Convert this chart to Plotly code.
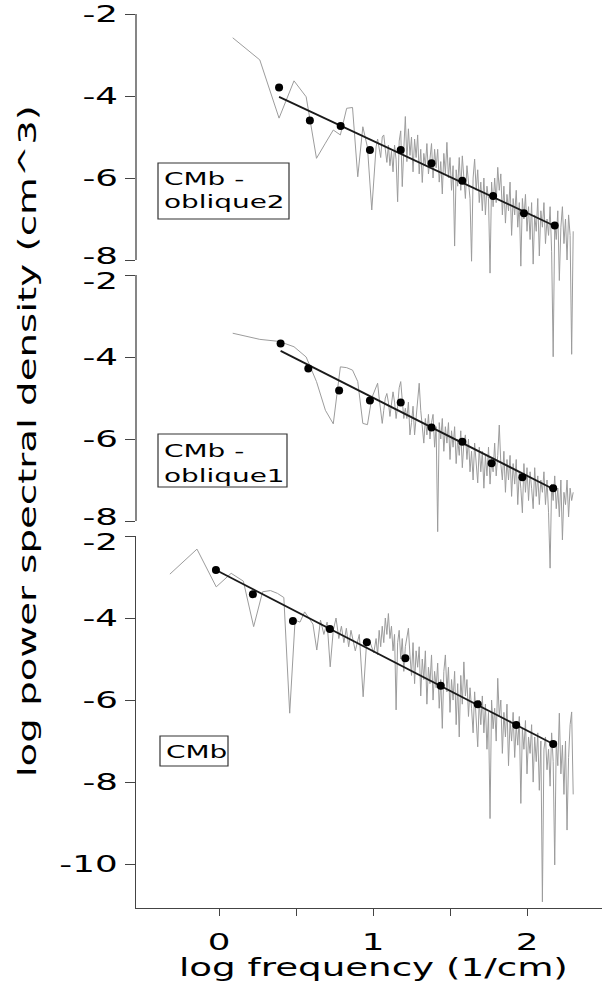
import plotly.graph_objects as go

# ---------------- data ----------------
# log frequency of the low-frequency (sparse) periodogram bins
top_freq_low = [0.089, 0.265, 0.390, 0.487, 0.566, 0.633, 0.691, 0.742, 0.788, 0.829,
                0.867, 0.901, 0.934, 0.964, 0.992]
mid_freq_low = [0.089, 0.265, 0.390, 0.487, 0.566, 0.633, 0.691, 0.742, 0.788, 0.829,
                0.867, 0.901, 0.934, 0.964, 0.992]
bot_freq_low = [-0.319, -0.143, -0.018, 0.079, 0.158, 0.225, 0.283, 0.334, 0.380, 0.421,
                0.459, 0.494, 0.526, 0.556, 0.584, 0.610, 0.635, 0.659, 0.681, 0.702,
                0.722, 0.742, 0.760, 0.778, 0.795, 0.811, 0.827, 0.842, 0.857, 0.885,
                0.911, 0.936, 0.960, 0.982, 1.005]

# log frequency of the high-frequency (dense) part, shared by the three panels
dense_freq = [1.02, 1.03, 1.04, 1.05, 1.06, 1.07, 1.08, 1.09, 1.10, 1.11,
              1.12, 1.13, 1.14, 1.15, 1.16, 1.17, 1.18, 1.19, 1.20, 1.21,
              1.22, 1.23, 1.24, 1.25, 1.26, 1.27, 1.28, 1.29, 1.30, 1.31,
              1.32, 1.33, 1.34, 1.35, 1.36, 1.37, 1.38, 1.39, 1.40, 1.41,
              1.42, 1.43, 1.44, 1.45, 1.46, 1.47, 1.48, 1.49, 1.50, 1.51,
              1.52, 1.53, 1.54, 1.55, 1.56, 1.57, 1.58, 1.59, 1.60, 1.61,
              1.62, 1.63, 1.64, 1.65, 1.66, 1.67, 1.68, 1.69, 1.70, 1.71,
              1.72, 1.73, 1.74, 1.75, 1.76, 1.77, 1.78, 1.79, 1.80, 1.81,
              1.82, 1.83, 1.84, 1.85, 1.86, 1.87, 1.88, 1.89, 1.90, 1.91,
              1.92, 1.93, 1.94, 1.95, 1.96, 1.97, 1.98, 1.99, 2.00, 2.01,
              2.02, 2.03, 2.04, 2.05, 2.06, 2.07, 2.08, 2.09, 2.10, 2.11,
              2.12, 2.13, 2.14, 2.15, 2.16, 2.17, 2.18, 2.19, 2.20, 2.21,
              2.22, 2.23, 2.24, 2.25, 2.26, 2.27, 2.28, 2.29, 2.30]

# log power spectral density — CMb - oblique2 (top)
top_psd_low = [-2.58, -3.12, -4.54, -3.63, -4.02, -5.52, -5.15, -4.83, -4.95, -4.30,
               -4.28, -5.97, -4.75, -5.25, -6.78]
top_psd_dense = [-5.24, -5.05, -5.24, -5.5, -5.0, -4.95, -5.3, -5.62, -5.2, -5.7,
                 -5.35, -5.85, -5.2, -5.55, -6.58, -5.1, -4.85, -6.21, -5.3, -4.50,
                 -5.6, -4.8, -5.45, -5.0, -5.85, -5.05, -5.5, -4.95, -5.9, -5.3,
                 -6.11, -5.4, -5.7, -5.16, -5.9, -5.5, -5.16, -6.0, -5.3, -5.75,
                 -5.3, -6.1, -5.6, -6.39, -5.4, -5.9, -5.13, -6.0, -5.5, -6.3,
                 -5.7, -7.66, -5.8, -6.2, -5.5, -6.3, -5.46, -6.0, -6.5, -5.7,
                 -6.2, -6.5, -8.03, -6.0, -5.54, -6.3, -5.8, -6.6, -6.1, -6.8,
                 -6.0, -6.9, -6.2, -6.5, -8.32, -6.1, -6.7, -6.0, -6.6, -5.74,
                 -6.3, -5.9, -6.9, -6.2, -7.1, -6.4, -6.8, -6.1, -7.4, -6.5,
                 -6.9, -6.3, -7.2, -6.6, -8.15, -6.5, -7.0, -6.4, -7.3, -6.7,
                 -7.5, -6.6, -8.1, -6.9, -7.3, -6.5, -7.9, -6.8, -7.2, -6.6,
                 -7.6, -7.0, -7.4, -6.7, -7.8, -10.36, -7.1, -7.5, -6.8, -8.5,
                 -7.2, -6.7, -7.6, -7.0, -8.0, -6.9, -7.4, -10.3, -7.3]

# CMb - oblique1 (middle)
mid_psd_low = [-3.42, -3.57, -3.62, -3.75, -4.0, -4.6, -5.3, -5.63, -4.24, -4.26,
               -4.32, -4.6, -5.62, -5.65, -5.0]
mid_psd_dense = [-4.7, -4.64, -5.0, -5.4, -5.62, -5.3, -5.0, -4.89, -5.1, -5.45,
                 -5.2, -4.85, -5.1, -5.5, -5.2, -4.75, -4.6, -5.0, -5.5, -5.25,
                 -5.5, -5.1, -5.9, -5.6, -5.2, -5.9, -5.4, -4.9, -4.64, -5.3,
                 -5.7, -6.1, -5.5, -5.9, -5.4, -6.0, -5.6, -5.4, -6.2, -5.7,
                 -8.26, -5.6, -6.0, -5.5, -6.3, -5.7, -6.1, -5.6, -6.5, -5.8,
                 -6.2, -5.7, -6.6, -6.0, -6.4, -5.8, -6.7, -6.1, -5.9, -6.5,
                 -6.0, -6.8, -6.3, -7.0, -6.1, -6.6, -7.07, -6.2, -6.8, -6.3,
                 -7.2, -6.4, -6.9, -6.2, -7.1, -6.5, -6.8, -6.1, -6.9, -6.4,
                 -5.66, -6.6, -7.0, -6.3, -7.3, -6.5, -7.0, -6.4, -7.4, -6.6,
                 -7.1, -6.5, -7.6, -6.8, -7.2, -7.8, -6.6, -7.3, -6.7, -7.5,
                 -6.8, -7.2, -7.7, -6.7, -7.4, -6.9, -7.6, -7.0, -7.3, -6.8,
                 -7.6, -7.0, -7.8, -9.15, -7.1, -7.5, -6.9, -7.7, -7.2, -7.9,
                 -7.0, -8.46, -7.3, -7.6, -7.0, -7.9, -7.2, -7.5, -7.3]

# CMb (bottom)
bot_psd_low = [-2.93, -2.32, -3.24, -2.91, -3.1, -4.21, -3.36, -3.33, -3.4, -3.5,
               -6.32, -4.05, -4.1, -3.85, -4.0, -4.15, -4.78, -4.05, -4.4, -4.1,
               -5.19, -4.3, -4.0, -4.5, -4.2, -4.6, -4.25, -4.7, -4.3, -4.8,
               -4.4, -5.92, -4.5, -4.6, -4.85]
bot_psd_dense = [-4.5, -4.9, -4.3, -4.7, -4.2, -4.6, -4.0, -4.4, -3.89, -4.5,
                 -4.2, -4.8, -4.4, -6.24, -4.6, -4.3, -5.0, -4.5, -5.3, -4.7,
                 -4.5, -4.25, -4.9, -5.4, -4.6, -5.6, -4.8, -5.2, -4.7, -5.9,
                 -5.0, -5.5, -4.8, -6.1, -5.2, -5.6, -4.9, -6.0, -5.3, -5.7,
                 -5.1, -6.2, -5.5, -6.69, -5.3, -4.9, -5.8, -5.2, -6.3, -5.5,
                 -6.0, -5.3, -6.6, -5.6, -6.9, -5.4, -6.1, -5.07, -5.9, -5.5,
                 -6.4, -5.7, -6.2, -6.8, -5.8, -6.5, -7.14, -6.0, -6.6, -5.9,
                 -6.8, -6.1, -7.2, -6.3, -8.89, -6.0, -6.7, -6.2, -7.0, -5.47,
                 -6.4, -6.0, -7.3, -6.3, -6.9, -6.1, -7.6, -6.5, -7.0, -6.3,
                 -7.4, -6.6, -7.1, -6.4, -8.52, -6.7, -7.2, -6.5, -7.8, -6.9,
                 -7.3, -6.6, -8.0, -6.9, -7.5, -6.8, -8.2, -7.0, -10.92, -7.2,
                 -6.9, -7.7, -7.2, -8.1, -6.8, -7.5, -10.02, -7.0, -7.6, -6.32,
                 -7.8, -7.1, -8.3, -7.0, -9.17, -7.4, -6.6, -6.29, -8.3]

# binned means (black dots)
top_dot_x = [0.39, 0.59, 0.79, 0.98, 1.18, 1.38, 1.58, 1.78, 1.98, 2.18]
top_dot_y = [-3.79, -4.60, -4.73, -5.32, -5.32, -5.64, -6.07, -6.44, -6.86, -7.16]
mid_dot_x = [0.40, 0.58, 0.78, 0.98, 1.18, 1.38, 1.58, 1.77, 1.97, 2.17]
mid_dot_y = [-3.67, -4.28, -4.82, -5.06, -5.11, -5.72, -6.07, -6.59, -6.93, -7.20]
bot_dot_x = [-0.02, 0.22, 0.48, 0.72, 0.96, 1.21, 1.44, 1.68, 1.93, 2.17]
bot_dot_y = [-2.83, -3.42, -4.07, -4.27, -4.59, -4.98, -5.65, -6.10, -6.61, -7.07]

# fitted regression lines (end points)
top_fit_x = [0.39, 2.18]
top_fit_y = [-4.02, -7.17]
mid_fit_x = [0.40, 2.17]
mid_fit_y = [-3.85, -7.22]
bot_fit_x = [-0.02, 2.17]
bot_fit_y = [-2.83, -7.07]

panel_labels = [["CMb -", "oblique2"], ["CMb -", "oblique1"], ["CMb"]]
y_ticks_short = [-2, -4, -6, -8]
y_ticks_long = [-2, -4, -6, -8, -10]
x_tick_vals = [0, 0.5, 1, 1.5, 2]
x_tick_text = ["0", "", "1", "", "2"]
x_title = "log frequency (1/cm)"
y_title = "log power spectral density (cm^3)"

# ---------------- figure ----------------
FONT = "DejaVu Sans"
GRAY = "#9c9c9c"
AX = "#444444"

fig = go.Figure()

panels = [
    ("x", "y", top_freq_low + dense_freq, top_psd_low + top_psd_dense,
     top_dot_x, top_dot_y, top_fit_x, top_fit_y),
    ("x2", "y2", mid_freq_low + dense_freq, mid_psd_low + mid_psd_dense,
     mid_dot_x, mid_dot_y, mid_fit_x, mid_fit_y),
    ("x3", "y3", bot_freq_low + dense_freq, bot_psd_low + bot_psd_dense,
     bot_dot_x, bot_dot_y, bot_fit_x, bot_fit_y),
]
for xa, ya, fx, fy, dx, dy, lx, ly in panels:
    fig.add_trace(go.Scatter(x=fx, y=fy, mode="lines", xaxis=xa, yaxis=ya,
                             line=dict(color=GRAY, width=1), hoverinfo="skip"))
    fig.add_trace(go.Scatter(x=lx, y=ly, mode="lines", xaxis=xa, yaxis=ya,
                             line=dict(color="#1a1a1a", width=1.8)))
    fig.add_trace(go.Scatter(x=dx, y=dy, mode="markers", xaxis=xa, yaxis=ya,
                             marker=dict(color="black", size=8)))

H_TOP, H_BOT = 14, 908          # pixel rows of the plot area
PH = H_BOT - H_TOP


def py(p):
    return (H_BOT - p) / PH


def px(p):
    return (p - 136) / 466


xr = [-0.539, 2.487]
tickfont = dict(family=FONT, size=23, color="black")
common_y = dict(showgrid=False, zeroline=False, ticks="outside", ticklen=10,
                tickwidth=1.3, tickcolor=AX, showticklabels=False)

fig.update_layout(
    width=602, height=985,
    margin=dict(l=136, r=0, t=H_TOP, b=985 - H_BOT),
    paper_bgcolor="white", plot_bgcolor="rgba(0,0,0,0)",
    showlegend=False,
    xaxis=dict(range=xr, anchor="y", visible=False),
    xaxis2=dict(range=xr, anchor="y2", visible=False),
    xaxis3=dict(range=xr, anchor="y3", showgrid=False, zeroline=False,
                showline=True, linecolor=AX, linewidth=1.3,
                ticks="outside", ticklen=7, tickwidth=1.3, tickcolor=AX,
                tickvals=x_tick_vals, ticktext=x_tick_text, tickfont=tickfont,
                ticklabelstandoff=6),
    yaxis=dict(domain=[py(14 + 8.6 * 41), 1.0], range=[-10.6, -2], anchor="x",
               tickvals=y_ticks_short, showline=False, **common_y),
    yaxis2=dict(domain=[py(275 + 7.4 * 41), py(275)], range=[-9.4, -2], anchor="x2",
                tickvals=y_ticks_short, showline=False, **common_y),
    yaxis3=dict(domain=[0.0, py(536)], range=[-11.07, -2], anchor="x3",
                tickvals=y_ticks_long, showline=True, linecolor=AX, linewidth=1.3,
                **common_y),
)

# bracket-like axis lines that only span the tick range of the upper panels
for yref in ("y", "y2"):
    fig.add_shape(type="line", xref="paper", yref=yref, x0=0, x1=0,
                  y0=min(y_ticks_short), y1=max(y_ticks_short),
                  line=dict(color=AX, width=1.3))

# y tick labels, placed on each panel's own scale; the labels at the panel
# joins are nudged apart (as in the reference) so that they do not collide
tick_sets = [("y", y_ticks_short, False, True),
             ("y2", y_ticks_short, True, True),
             ("y3", y_ticks_long, True, False)]
for yref, vals, nudge_top, nudge_bottom in tick_sets:
    for v in vals:
        shift = 0
        if nudge_top and v == max(vals):
            shift = -6
        if nudge_bottom and v == min(vals):
            shift = 4
        fig.add_annotation(text=str(v), xref="paper", yref=yref, x=0, y=v,
                           xanchor="right", yanchor="middle", align="right",
                           xshift=-16, yshift=shift, showarrow=False,
                           font=tickfont)

# label boxes
boxes = [(158, 289, 163, 219), (158, 287, 434, 487), (160, 228, 736, 766)]
for x0, x1, y0, y1 in boxes:
    fig.add_shape(type="rect", xref="paper", yref="paper",
                  x0=px(x0), x1=px(x1), y0=py(y1), y1=py(y0),
                  line=dict(color="#333333", width=1.2), fillcolor="white")

label_rows = [[(162, 178), (162, 202)], [(162, 450), (162, 475)], [(164, 751)]]
for lines, rows in zip(panel_labels, label_rows):
    for txt, (lx, ly) in zip(lines, rows):
        fig.add_annotation(text=txt, xref="paper", yref="paper", x=px(lx), y=py(ly),
                           xanchor="left", yanchor="middle", align="left",
                           showarrow=False, font=dict(family=FONT, size=18, color="black"))

fig.add_annotation(text=x_title, xref="paper", yref="paper", x=px(373), y=py(968),
                   xanchor="center", yanchor="middle", showarrow=False,
                   font=dict(family=FONT, size=24, color="black"))
fig.add_annotation(text=y_title, xref="paper", yref="paper", x=px(27), y=py(441),
                   xanchor="center", yanchor="middle", showarrow=False, textangle=-90,
                   font=dict(family=FONT, size=25, color="black"))

# the reference typeface is very wide: stretch every label along its baseline
post = """
var gd = document.getElementById('{plot_id}');
gd.querySelectorAll('text').forEach(function(t){
  var s = (t.textContent || '').trim();
  if (!s) return;
  var L = t.getComputedTextLength();
  if (L > 0) {
    t.setAttribute('textLength', (L * 1.55).toFixed(2));
    t.setAttribute('lengthAdjust', 'spacingAndGlyphs');
  }
});
"""

fig.write_html("out.html", post_script=post, config={"displayModeBar": False})
